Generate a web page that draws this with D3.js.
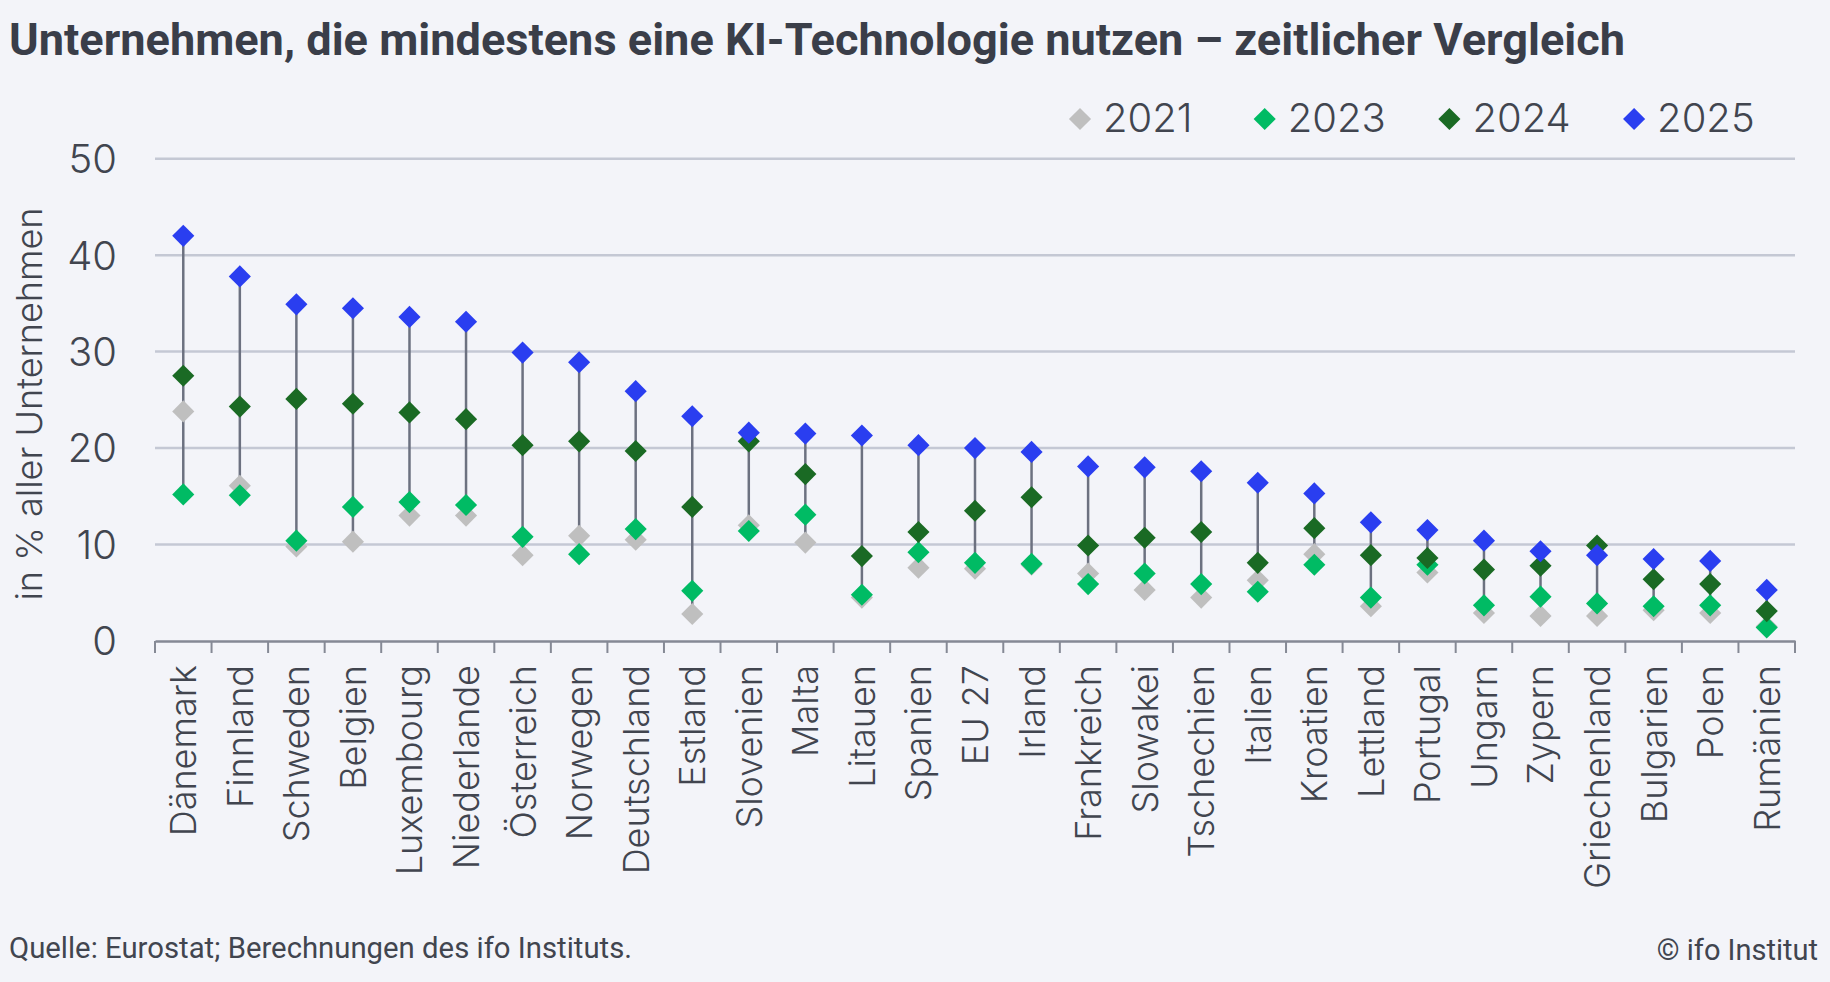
<!DOCTYPE html>
<html>
<head>
<meta charset="utf-8">
<script src="https://cdn.jsdelivr.net/npm/d3@7"></script>
<style>
  body { margin: 0; background: #f3f4f9; }
  text { fill: #41454f; }
</style>
</head>
<body>
<svg width="1830" height="982"></svg>
<script>
// Werte (in % aller Unternehmen)
const countries = ['Dänemark', 'Finnland', 'Schweden', 'Belgien', 'Luxembourg', 'Niederlande', 'Österreich',
  'Norwegen', 'Deutschland', 'Estland', 'Slovenien', 'Malta', 'Litauen', 'Spanien', 'EU 27', 'Irland',
  'Frankreich', 'Slowakei', 'Tschechien', 'Italien', 'Kroatien', 'Lettland', 'Portugal', 'Ungarn', 'Zypern',
  'Griechenland', 'Bulgarien', 'Polen', 'Rumänien']

const years = ['2021', '2023', '2024', '2025']

const v2021 = [23.8, 16.1, 9.8, 10.3, 13.0, 13.0, 8.9, 10.9, 10.5, 2.8, 12.0, 10.2, 4.5, 7.6, 7.5, 7.9,
  7.0, 5.3, 4.5, 6.3, 9.0, 3.6, 7.1, 2.9, 2.6, 2.6, 3.2, 2.9, 1.5]
const v2023 = [15.2, 15.1, 10.4, 13.9, 14.4, 14.1, 10.8, 9.0, 11.6, 5.2, 11.4, 13.1, 4.8, 9.2, 8.1, 8.0,
  5.9, 7.0, 5.9, 5.1, 7.9, 4.5, 7.9, 3.7, 4.6, 3.9, 3.6, 3.7, 1.4]
const v2024 = [27.5, 24.3, 25.1, 24.6, 23.7, 23.0, 20.3, 20.7, 19.7, 13.9, 20.7, 17.3, 8.8, 11.3, 13.5, 14.9,
  9.9, 10.7, 11.3, 8.1, 11.7, 8.9, 8.6, 7.4, 7.8, 9.9, 6.4, 5.9, 3.1]
const v2025 = [42.0, 37.8, 34.9, 34.5, 33.6, 33.1, 29.9, 28.9, 25.9, 23.3, 21.6, 21.5, 21.3, 20.3, 20.0, 19.6,
  18.1, 18.0, 17.6, 16.4, 15.3, 12.3, 11.5, 10.4, 9.3, 8.9, 8.5, 8.3, 5.3]

const yTicks = [0, 10, 20, 30, 40, 50]
const colors = ['#bfbfbf', '#00bb64', '#1a6a24', '#2a3ef0']

const series = [v2021, v2023, v2024, v2025]

const svg = d3.select('svg')

const x = d3.scaleBand().domain(countries).range([155, 1795])
const y = d3.scaleLinear().domain([0, 50]).range([641, 158.7])

// Titel
svg.append('text')
  .attr('x', 9).attr('y', 55)
  .attr('textLength', 1616).attr('lengthAdjust', 'spacingAndGlyphs')
  .style('font-family', '"Liberation Sans Narrow", "Roboto", sans-serif')
  .style('font-weight', 700).style('font-size', '44px')
  .style('fill', '#3a3e49')
  .text('Unternehmen, die mindestens eine KI-Technologie nutzen – zeitlicher Vergleich')

// Gitterlinien
svg.append('g')
  .selectAll('line')
  .data(yTicks.filter(d => d > 0))
  .enter()
  .append('line')
    .attr('x1', 155).attr('x2', 1795)
    .attr('y1', d => y(d)).attr('y2', d => y(d))
    .attr('stroke', '#c4c8d4').attr('stroke-width', 2.5)

// y-Achse Beschriftung
svg.append('g')
  .selectAll('text')
  .data(yTicks)
  .enter()
  .append('text')
    .attr('x', 117).attr('y', d => y(d)).attr('dy', '0.36em')
    .attr('text-anchor', 'end')
    .style('font-family', 'Inter, sans-serif').style('font-weight', 300).style('font-size', '40px')
    .text(d => d)

svg.append('text')
  .attr('transform', 'translate(29,404) rotate(-90)')
  .attr('text-anchor', 'middle').attr('dy', '0.36em')
  .style('font-family', 'Inter, sans-serif').style('font-weight', 300).style('font-size', '36px')
  .text('in % aller Unternehmen')

// x-Achse
const xAxis = d3.axisBottom(x).tickSize(0).tickFormat('')
svg.append('g')
  .attr('transform', 'translate(0,641)')
  .call(xAxis)
  .call(g => g.select('.domain').attr('stroke', '#858995').attr('stroke-width', 2.5))

const bounds = countries.map(c => x(c)).concat([x.range()[1]])
svg.append('g')
  .selectAll('line')
  .data(bounds)
  .enter()
  .append('line')
    .attr('x1', d => d).attr('x2', d => d)
    .attr('y1', 641).attr('y2', 653)
    .attr('stroke', '#858995').attr('stroke-width', 2)

svg.append('g')
  .selectAll('text')
  .data(countries)
  .enter()
  .append('text')
    .attr('transform', d => `translate(${x(d) + x.bandwidth() / 2},665) rotate(-90)`)
    .attr('text-anchor', 'end').attr('dy', '0.36em')
    .style('font-family', 'Inter, sans-serif').style('font-weight', 300).style('font-size', '36px')
    .text(d => d)

// Verbindungslinien min bis max
const rows = countries.map((c, i) => ({ c, vals: series.map(s => s[i]) }))
svg.append('g')
  .selectAll('line')
  .data(rows)
  .enter()
  .append('line')
    .attr('x1', d => x(d.c) + x.bandwidth() / 2)
    .attr('x2', d => x(d.c) + x.bandwidth() / 2)
    .attr('y1', d => y(d3.min(d.vals)))
    .attr('y2', d => y(d3.max(d.vals)))
    .attr('stroke', '#6c7180').attr('stroke-width', 2.5)

// Rauten
const diamond = d3.symbol().type(d3.symbolSquare).size(245)

series.forEach((s, k) => {
  svg.append('g')
    .selectAll('path')
    .data(s)
    .enter()
    .append('path')
      .attr('d', diamond)
      .attr('transform', (d, i) => `translate(${x(countries[i]) + x.bandwidth() / 2},${y(d)}) rotate(45)`)
      .attr('fill', colors[k])
})

// Legende
const legend = svg.append('g')
  .selectAll('g')
  .data(years)
  .enter()
  .append('g')
    .attr('transform', (d, i) => `translate(${1080 + i * 184.7},119)`)

legend.append('path')
  .attr('d', diamond)
  .attr('transform', 'rotate(45)')
  .attr('fill', (d, i) => colors[i])

legend.append('text')
  .attr('x', 23).attr('y', 13)
  .style('font-family', 'Inter, sans-serif').style('font-weight', 300).style('font-size', '40px')
  .text(d => d)

// Fusszeile
svg.append('text')
  .attr('x', 9).attr('y', 958)
  .attr('textLength', 623).attr('lengthAdjust', 'spacingAndGlyphs')
  .style('font-family', '"Liberation Sans Narrow", "Roboto", sans-serif').style('font-size', '29px')
  .text('Quelle: Eurostat; Berechnungen des ifo Instituts.')

svg.append('text')
  .attr('x', 1818).attr('y', 960)
  .attr('text-anchor', 'end')
  .style('font-family', '"Liberation Sans Narrow", "Roboto", sans-serif').style('font-size', '29px')
  .text('© ifo Institut')
</script>
</body>
</html>
